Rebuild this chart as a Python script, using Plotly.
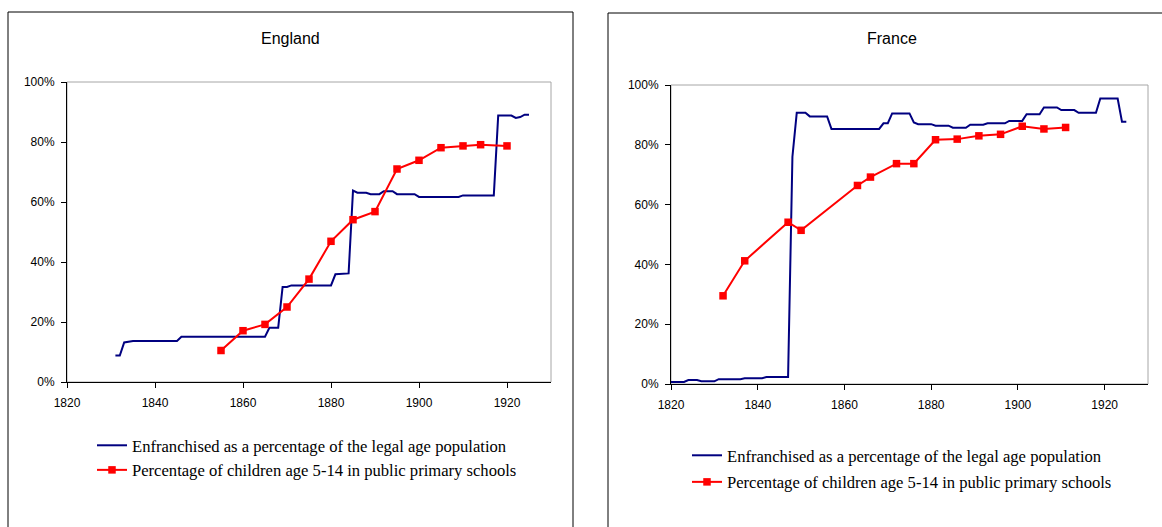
import plotly.graph_objects as go

W, H = 1162, 527

# ---------------- data ----------------
eng_vote_year = [1831, 1832, 1833, 1835, 1845, 1846, 1865, 1866, 1868, 1869, 1870, 1871, 1880, 1881, 1884,
                 1885, 1886, 1888, 1889, 1891, 1892, 1894, 1895, 1899, 1900, 1909, 1910, 1917, 1918, 1921,
                 1922, 1923, 1924, 1925]
eng_vote_pct = [8.8, 8.8, 13.2, 13.7, 13.7, 15.1, 15.1, 18.1, 18.1, 31.7, 31.7, 32.2, 32.2, 35.9, 36.2,
                63.8, 63.1, 63.1, 62.6, 62.6, 63.6, 63.6, 62.6, 62.6, 61.7, 61.7, 62.2, 62.2, 88.8, 88.8,
                88.0, 88.3, 89.1, 89.1]

eng_school_year = [1855, 1860, 1865, 1870, 1875, 1880, 1885, 1890, 1895, 1900, 1905, 1910, 1914, 1920]
eng_school_pct = [10.5, 17.1, 19.2, 25.0, 34.3, 46.9, 54.1, 56.8, 71.0, 73.9, 78.1, 78.7, 79.1, 78.7]

fra_vote_year = [1820, 1823, 1824, 1826, 1827, 1830, 1831, 1836, 1837, 1841, 1842, 1847, 1848, 1849,
                 1851, 1852, 1856, 1857, 1868, 1869, 1870, 1871, 1875, 1876, 1877, 1880, 1881, 1884,
                 1885, 1888, 1889, 1892, 1893, 1897, 1898, 1901, 1902, 1905, 1906, 1909, 1910, 1913,
                 1914, 1918, 1919, 1923, 1924, 1925]
fra_vote_pct = [0.7, 0.7, 1.3, 1.3, 0.9, 0.9, 1.6, 1.6, 1.9, 1.9, 2.3, 2.3, 76.0, 90.7,
                90.7, 89.5, 89.5, 85.3, 85.3, 87.2, 87.2, 90.5, 90.5, 87.5, 86.9, 86.9, 86.4, 86.4,
                85.7, 85.7, 86.7, 86.7, 87.2, 87.2, 88.0, 88.0, 90.2, 90.2, 92.5, 92.5, 91.6, 91.6,
                90.7, 90.7, 95.5, 95.5, 87.7, 87.7]

fra_school_year = [1832, 1837, 1847, 1850, 1863, 1866, 1872, 1876, 1881, 1886, 1891, 1896, 1901, 1906, 1911]
fra_school_pct = [29.5, 41.2, 54.1, 51.4, 66.4, 69.2, 73.7, 73.7, 81.7, 81.9, 83.0, 83.5, 86.2, 85.3, 85.8]

panel_titles = ["England", "France"]
series_names = ["Enfranchised as a percentage of the legal age population",
                "Percentage of children age 5-14 in public primary schools"]
x_ticks = [1820, 1840, 1860, 1880, 1900, 1920]
y_ticks = [0, 20, 40, 60, 80, 100]
y_tick_text = [f"{v}%" for v in y_ticks]

BLUE = "#000080"
RED = "#FF0000"


def px(x):
    return x / W


def py(y):
    return 1 - y / H


fig = go.Figure()

# England
fig.add_trace(go.Scatter(x=eng_vote_year, y=eng_vote_pct, mode="lines", name=series_names[0],
                         line=dict(color=BLUE, width=2), xaxis="x", yaxis="y",
                         legend="legend", legendgroup="e1"))
fig.add_trace(go.Scatter(x=eng_school_year, y=eng_school_pct, mode="lines+markers", name=series_names[1],
                         line=dict(color=RED, width=2), marker=dict(symbol="square", size=7.5, color=RED),
                         xaxis="x", yaxis="y", legend="legend", legendgroup="e2"))
# France
fig.add_trace(go.Scatter(x=fra_vote_year, y=fra_vote_pct, mode="lines", name=series_names[0],
                         line=dict(color=BLUE, width=2), xaxis="x2", yaxis="y2",
                         legend="legend2", legendgroup="f1"))
fig.add_trace(go.Scatter(x=fra_school_year, y=fra_school_pct, mode="lines+markers", name=series_names[1],
                         line=dict(color=RED, width=2), marker=dict(symbol="square", size=7.5, color=RED),
                         xaxis="x2", yaxis="y2", legend="legend2", legendgroup="f2"))

tickfont = dict(family="Liberation Sans, Arial, sans-serif", size=12, color="black")
xcommon = dict(range=[1820, 1930], tickvals=x_ticks, ticks="outside", ticklen=5, tickcolor="black",
               showline=True, linecolor="black", linewidth=1, showgrid=False, zeroline=False,
               tickfont=tickfont, fixedrange=True, automargin=False, ticklabelstandoff=5)
ycommon = dict(range=[0, 100], tickvals=y_ticks, ticktext=y_tick_text, ticks="outside", ticklen=5,
               tickcolor="black", showline=True, linecolor="black", linewidth=1, showgrid=False,
               zeroline=False, tickfont=tickfont, fixedrange=True, ticklabelstandoff=4, automargin=False)

legfont = dict(family="Liberation Serif, Times New Roman, serif", size=16.6, color="black")

fig.update_layout(
    width=W, height=H,
    margin=dict(l=0, r=0, t=0, b=0, autoexpand=False),
    paper_bgcolor="white", plot_bgcolor="white",
    xaxis=dict(domain=[px(67), px(551)], anchor="y", **xcommon),
    yaxis=dict(domain=[py(382), py(82)], anchor="x", **ycommon),
    xaxis2=dict(domain=[px(671), px(1148)], anchor="y2", **xcommon),
    yaxis2=dict(domain=[py(384), py(85)], anchor="x2", **ycommon),
    legend=dict(x=px(92), y=py(428), xanchor="left", yanchor="top", font=legfont,
                bgcolor="rgba(0,0,0,0)", itemwidth=30, traceorder="grouped", tracegroupgap=0),
    legend2=dict(x=px(687), y=py(438), xanchor="left", yanchor="top", font=legfont,
                 bgcolor="rgba(0,0,0,0)", itemwidth=30, traceorder="grouped", tracegroupgap=2),
    showlegend=True,
)

# panel frames (open at the bottom / right where the picture is cut)
frame_line = dict(color="black", width=1)
for (xa, ya, xb, yb) in [(8, 12, 573, 12), (8, 12, 8, 527), (573, 12, 573, 527),
                         (608, 13, 1162, 13), (608, 13, 608, 527)]:
    fig.add_shape(type="line", xref="paper", yref="paper", x0=px(xa), y0=py(ya), x1=px(xb), y1=py(yb),
                  line=frame_line, layer="below")
# plot-area borders (grey)
for xa, ya in (("x", "y"), ("x2", "y2")):
    fig.add_shape(type="rect", xref=f"{xa} domain", yref=f"{ya} domain", x0=0, x1=1, y0=0, y1=1,
                  line=dict(color="#a6a6a6", width=1), layer="below")

# titles
title_font = dict(family="Liberation Sans, Arial, sans-serif", size=16, color="black")
fig.add_annotation(text=panel_titles[0], xref="paper", yref="paper", x=px(290.5), y=py(38),
                   xanchor="center", yanchor="middle", showarrow=False, font=title_font)
fig.add_annotation(text=panel_titles[1], xref="paper", yref="paper", x=px(892), y=py(38),
                   xanchor="center", yanchor="middle", showarrow=False, font=title_font)

fig.write_html("out.html", config={"displayModeBar": False},
               post_script="document.body.style.margin='0';document.body.style.overflow='hidden';")
